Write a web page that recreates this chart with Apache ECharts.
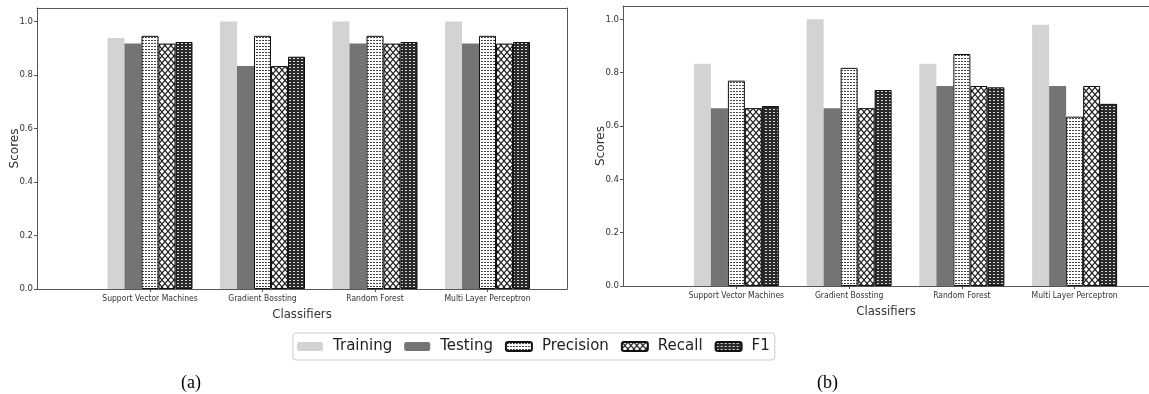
<!DOCTYPE html>
<html>
<head>
<meta charset="utf-8">
<script src="https://cdn.jsdelivr.net/npm/echarts@6/dist/echarts.min.js"></script>
<style>
html,body{margin:0;padding:0;background:#fff;}
#chart{width:1149px;height:394px;}
</style>
</head>
<body>
<div id="chart"></div>
<script>
// ---- data ----
const categories = ['Support Vector Machines', 'Gradient Bossting', 'Random Forest', 'Multi Layer Perceptron'];
const seriesNames = ['Training', 'Testing', 'Precision', 'Recall', 'F1'];
// (a)
const aTraining  = [0.938, 1.0, 1.0, 1.0];
const aTesting   = [0.917, 0.833, 0.917, 0.917];
const aPrecision = [0.946, 0.946, 0.946, 0.946];
const aRecall    = [0.917, 0.833, 0.917, 0.917];
const aF1        = [0.923, 0.868, 0.923, 0.923];
// (b)
const bTraining  = [0.833, 1.0, 0.833, 0.98];
const bTesting   = [0.667, 0.667, 0.75, 0.75];
const bPrecision = [0.77, 0.818, 0.87, 0.635];
const bRecall    = [0.667, 0.667, 0.75, 0.75];
const bF1        = [0.675, 0.735, 0.745, 0.683];
const yTicks = [0, 0.2, 0.4, 0.6, 0.8, 1.0];
const yMin = 0, yMax = 1.05, yInterval = 0.2;
const captions = ['(a)', '(b)'];
const xAxisTitle = 'Classifiers';
const yAxisTitle = 'Scores';

// ---- patterns ----
function pattern(draw, w, h) {
  const c = document.createElement('canvas');
  c.width = w; c.height = h;
  const ctx = c.getContext('2d');
  draw(ctx, w, h);
  return { image: c, repeat: 'repeat' };
}
const precisionPat = pattern((ctx, w, h) => {
  ctx.fillStyle = '#ffffff'; ctx.fillRect(0, 0, w, h);
  ctx.fillStyle = '#444444'; ctx.fillRect(1, 1, 2, 1);
}, 3, 3);
const recallPat = pattern((ctx, w, h) => {
  ctx.fillStyle = '#ffffff'; ctx.fillRect(0, 0, w, h);
  ctx.strokeStyle = '#222222'; ctx.lineWidth = 1.2;
  ctx.beginPath();
  ctx.moveTo(0, 0); ctx.lineTo(w, h);
  ctx.moveTo(w, 0); ctx.lineTo(0, h);
  ctx.stroke();
}, 6, 7);
const f1Pat = pattern((ctx, w, h) => {
  ctx.fillStyle = '#2a2a2a'; ctx.fillRect(0, 0, w, h);
  ctx.fillStyle = '#d8d8d8'; ctx.fillRect(1, 1, 2, 1);
}, 4, 3);

const styles = [
  { color: '#d3d3d3' },
  { color: '#747474' },
  { color: precisionPat, borderColor: '#111', borderWidth: 1 },
  { color: recallPat, borderColor: '#111', borderWidth: 1 },
  { color: f1Pat, borderColor: '#111', borderWidth: 1 }
];

const tickFont = "'Liberation Sans Narrow', 'DejaVu Sans Condensed', sans-serif";
const axisColor = '#555';

function frameAxes(gridIndex, xNameGap) {
  return {
    x: {
      type: 'value', gridIndex, min: 0, max: 1,
      axisLine: { show: true, onZero: false, lineStyle: { color: axisColor } },
      axisTick: { show: false }, axisLabel: { show: false }, splitLine: { show: false },
      name: xAxisTitle, nameLocation: 'middle', nameGap: xNameGap, nameMoveOverlap: false,
      nameTextStyle: { fontFamily: "'DejaVu Sans Condensed', sans-serif", fontSize: 13, color: '#333' }
    },
    xTop: {
      type: 'value', gridIndex, min: 0, max: 1, position: 'top',
      axisLine: { show: true, onZero: false, lineStyle: { color: axisColor } },
      axisTick: { show: false }, axisLabel: { show: false }, splitLine: { show: false }
    },
    y: {
      type: 'value', gridIndex, min: yMin, max: yMax, interval: yInterval,
      axisLine: { show: true, onZero: false, lineStyle: { color: axisColor } },
      axisTick: { show: true, length: 3, customValues: yTicks, lineStyle: { color: axisColor } },
      axisLabel: {
        fontFamily: tickFont, fontSize: 9.5, color: '#333', margin: 4, customValues: yTicks,
        formatter: v => v.toFixed(1)
      },
      splitLine: { show: false },
      name: yAxisTitle, nameLocation: 'middle', nameGap: 16, nameMoveOverlap: false,
      nameTextStyle: { fontFamily: "'DejaVu Sans', sans-serif", fontSize: 12, color: '#333' }
    },
    yRight: {
      type: 'value', gridIndex, min: yMin, max: yMax, position: 'right',
      axisLine: { show: true, onZero: false, lineStyle: { color: axisColor } },
      axisTick: { show: false }, axisLabel: { show: false }, splitLine: { show: false }
    }
  };
}
function catAxes(gridIndex) {
  return {
    x: {
      type: 'category', gridIndex, data: categories,
      axisLine: { show: false },
      axisTick: { show: true, alignWithLabel: true, length: 3, lineStyle: { color: axisColor } },
      axisLabel: { fontFamily: tickFont, fontSize: 8.5, color: '#333', margin: 5, interval: 0 }
    },
    y: { type: 'value', gridIndex, min: yMin, max: yMax, show: false, splitLine: { show: false } }
  };
}
const f0 = frameAxes(0, 19), c1 = catAxes(1), f2 = frameAxes(2, 19), c3 = catAxes(3);

const aData = [aTraining, aTesting, aPrecision, aRecall, aF1];
const bData = [bTraining, bTesting, bPrecision, bRecall, bF1];
const series = [];
[[aData, 1], [bData, 3]].forEach(([set, axisIdx]) => {
  set.forEach((vals, i) => {
    series.push({
      type: 'bar', name: seriesNames[i], data: vals,
      xAxisIndex: axisIdx, yAxisIndex: axisIdx,
      barWidth: 17, barGap: '0%',
      itemStyle: styles[i], emphasis: { disabled: true }
    });
  });
});

const chart = echarts.init(document.getElementById('chart'), null, { renderer: 'canvas' });
chart.setOption({
  animation: false,
  backgroundColor: '#fff',
  grid: [
    { left: 37, top: 8, width: 530, height: 281 },
    { left: 93.75, top: 8, width: 450, height: 281 },
    { left: 623, top: 6, width: 540, height: 280 },
    { left: 680, top: 6, width: 451, height: 280 }
  ],
  xAxis: [f0.x, c1.x, f2.x, c3.x, f0.xTop, f2.xTop],
  yAxis: [f0.y, c1.y, f2.y, c3.y, f0.yRight],
  legend: {
    data: seriesNames,
    left: 293, top: 333,
    padding: [6, 5, 6, 4],
    itemWidth: 26, itemHeight: 9, itemGap: 12,
    borderColor: '#cccccc', borderWidth: 1, borderRadius: 3,
    textStyle: { fontFamily: "'DejaVu Sans', sans-serif", fontSize: 15, color: '#222', padding: [0, 0, 0, 5] },
    selectedMode: false
  },
  title: [
    { text: captions[0], left: 176, top: 369, textStyle: { fontFamily: "'Liberation Serif', serif", fontSize: 18, fontWeight: 'normal', color: '#000' } },
    { text: captions[1], left: 812, top: 369, textStyle: { fontFamily: "'Liberation Serif', serif", fontSize: 18, fontWeight: 'normal', color: '#000' } }
  ],
  series
});
</script>
</body>
</html>
